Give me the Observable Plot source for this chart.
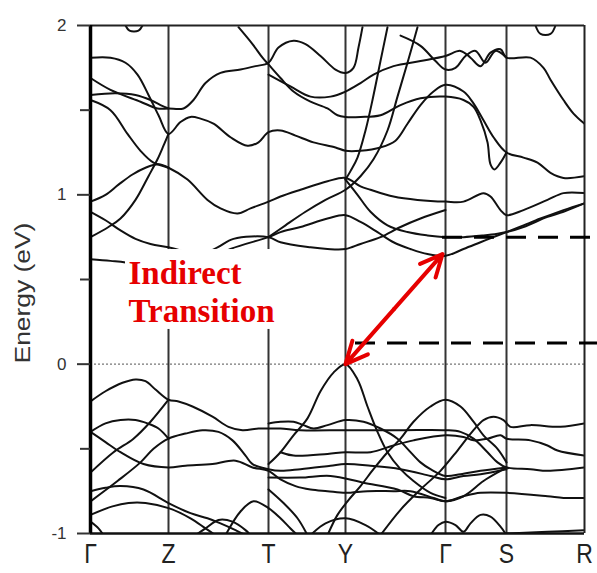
<!DOCTYPE html>
<html><head><meta charset="utf-8">
<script src="https://cdn.jsdelivr.net/npm/d3@7"></script>
<script src="https://cdn.jsdelivr.net/npm/@observablehq/plot@0.6"></script>
<style>html,body{margin:0;padding:0;background:#fff;} svg{display:block}</style>
</head><body><div id="chart"></div>
<script>
// k-path positions of the high-symmetry points and their labels
const kTicks = [0, 78, 178, 255, 355, 416, 494];
const kLabels = ["Γ", "Z", "T", "Y", "Γ", "S", "R"];
const yTicks = [-1, 0, 1, 2];
const yMinor = [-0.5, 0.5, 1.5];

// conduction bands: [k, energy (eV)]
const c1 = [[0,1.81],[20,1.81],[35,1.78],[47,1.71],[58,1.59],[68,1.47],[78,1.36],[90,1.43],[100,1.46],[110,1.45],[123,1.42],[140,1.34],[157,1.29],[168,1.31],[178,1.37],[190,1.38],[205,1.35],[223,1.31],[245,1.28],[255,1.26],[270,1.26],[290,1.28],[305,1.32],[317,1.42],[330,1.53],[343,1.61],[355,1.65],[373,1.61],[383,1.54],[393,1.44],[403,1.34],[416,1.25],[433,1.22],[447,1.19],[460,1.13],[473,1.10],[494,1.11]];
const c2 = [[0,1.69],[20,1.62],[50,1.55],[67,1.51],[78,1.51],[93,1.51],[103,1.56],[115,1.66],[130,1.72],[150,1.74],[165,1.76],[178,1.78],[188,1.87],[203,1.91],[215,1.89],[230,1.82],[245,1.74],[255,1.72],[263,1.75],[268,1.87],[272,1.99]];
const c3 = [[148,1.99],[162,1.89],[172,1.81],[178,1.77],[190,1.69],[203,1.61],[220,1.55],[237,1.51],[247,1.47],[255,1.46],[270,1.46],[290,1.47],[310,1.53],[330,1.57],[355,1.58],[373,1.56],[383,1.52],[390,1.44],[397,1.31],[400,1.18],[404,1.15],[410,1.19],[416,1.25]];
const c4 = [[0,1.56],[20,1.50],[37,1.36],[50,1.26],[63,1.19],[78,1.16],[97,1.09],[117,0.97],[130,0.92],[147,0.89],[160,0.92],[178,0.96],[190,0.99],[210,1.03],[237,1.08],[255,1.10],[270,1.05],[280,1.03],[303,0.99],[327,0.97],[355,0.96],[373,0.96],[393,1.01],[400,0.99],[410,0.91],[416,0.88],[433,0.91],[457,0.97],[473,1.01],[494,1.01]];
const c5 = [[0,1.59],[25,1.60],[45,1.59],[60,1.56],[70,1.53],[78,1.51]];
const c6 = [[0,0.96],[15,1.00],[28,1.06],[42,1.12],[55,1.16],[68,1.18],[78,1.16]];
const c7 = [[0,0.75],[18,0.81],[30,0.86],[45,0.97],[58,1.11],[67,1.21],[73,1.29],[78,1.36]];
const c8 = [[0,0.90],[15,0.85],[30,0.79],[45,0.74],[60,0.71],[78,0.69],[110,0.65],[127,0.69],[143,0.74],[178,0.75],[190,0.72],[220,0.69],[237,0.68],[255,0.68],[270,0.71],[290,0.75],[310,0.81],[330,0.86],[355,0.91]];
const c9 = [[0,0.62],[20,0.61],[35,0.60],[60,0.55],[78,0.51],[110,0.59],[140,0.68],[178,0.75],[190,0.78],[210,0.81],[237,0.86],[255,0.88],[270,0.84],[287,0.78],[303,0.72],[320,0.68],[337,0.65],[355,0.64],[373,0.68],[390,0.72],[407,0.76],[416,0.78],[433,0.82],[450,0.86],[473,0.91],[494,0.95]];
const c10 = [[255,1.09],[267,1.00],[280,0.90],[297,0.82],[317,0.78],[337,0.76],[355,0.75],[373,0.75],[393,0.76],[407,0.77],[416,0.78],[433,0.81],[457,0.87],[473,0.90],[494,0.95]];
const c11 = [[255,1.09],[260,1.14],[267,1.22],[275,1.38],[282,1.56],[290,1.79],[297,1.99]];
const c12 = [[178,0.75],[195,0.82],[215,0.90],[235,0.97],[255,1.03],[270,1.11],[283,1.21],[297,1.38],[307,1.58],[317,1.78],[327,1.99]];
const c13 = [[178,1.71],[200,1.64],[220,1.58],[240,1.58],[255,1.61],[270,1.66],[283,1.71],[303,1.76],[330,1.79],[355,1.82],[370,1.85],[380,1.81],[390,1.76],[400,1.84],[410,1.86],[416,1.81],[440,1.81],[453,1.75],[460,1.68],[473,1.56],[483,1.48],[494,1.42]];
const c14 = [[310,1.94],[330,1.88],[345,1.79],[355,1.74],[365,1.75],[375,1.82],[385,1.85],[395,1.78],[405,1.85],[416,1.81]];
const c15 = [[35,2.0],[39,1.97],[48,1.97],[52,2.0]];
const c16 = [[445,2.0],[450,1.95],[460,1.95],[465,2.0]];

// valence bands: [k, energy (eV)]
const v1 = [[0,-0.22],[15,-0.16],[32,-0.11],[45,-0.09],[55,-0.10],[65,-0.15],[78,-0.21],[88,-0.22],[102,-0.25],[122,-0.31],[138,-0.37],[152,-0.39],[168,-0.38],[178,-0.38],[190,-0.38],[210,-0.39],[255,-0.39],[310,-0.39],[355,-0.39],[370,-0.40],[383,-0.44],[397,-0.52],[407,-0.58],[416,-0.61],[440,-0.62],[457,-0.63],[494,-0.61]];
const v2 = [[0,-0.64],[23,-0.52],[43,-0.44],[60,-0.34],[78,-0.21]];
const v3 = [[0,-0.81],[27,-0.69],[50,-0.58],[63,-0.50],[78,-0.44],[95,-0.41],[112,-0.39],[128,-0.40],[142,-0.45],[155,-0.54],[162,-0.59],[178,-0.62],[190,-0.63],[210,-0.62],[240,-0.60],[255,-0.59],[280,-0.60],[310,-0.62],[340,-0.66],[355,-0.68],[373,-0.66],[390,-0.65],[416,-0.62]];
const v4 = [[0,-0.40],[15,-0.35],[30,-0.33],[45,-0.33],[57,-0.35],[68,-0.38],[78,-0.44]];
const v5 = [[0,-0.40],[15,-0.46],[30,-0.52],[53,-0.59],[78,-0.61],[95,-0.60],[122,-0.59],[145,-0.57],[162,-0.61],[178,-0.63],[190,-0.68],[205,-0.72],[220,-0.74],[237,-0.75],[255,-0.76],[277,-0.75],[303,-0.75],[320,-0.75],[343,-0.79],[355,-0.81],[373,-0.78],[390,-0.76],[416,-0.76],[457,-0.78],[473,-0.79],[494,-0.79]];
const v6 = [[0,-0.75],[15,-0.73],[30,-0.72],[53,-0.74],[78,-0.82],[100,-0.88],[117,-0.91],[130,-0.94],[145,-0.98],[155,-1.01]];
const v7 = [[0,-0.89],[22,-0.84],[38,-0.82],[55,-0.82],[78,-0.85],[100,-0.91],[115,-0.97],[125,-1.01]];
const v8 = [[105,-1.01],[115,-0.97],[128,-0.92],[142,-0.93],[155,-0.98],[160,-1.01]];
const v9 = [[135,-1.01],[150,-0.87],[163,-0.81],[178,-0.85],[190,-0.91],[200,-0.97],[207,-1.01]];
const v10 = [[0,-0.93],[8,-0.97],[13,-1.01]];
const v11 = [[178,-0.59],[190,-0.52],[203,-0.42],[217,-0.32],[230,-0.16],[243,-0.05],[255,0.0],[267,-0.09],[277,-0.25],[287,-0.40],[297,-0.52],[310,-0.62],[323,-0.69],[340,-0.76],[355,-0.79]];
const v12 = [[178,-0.35],[190,-0.34],[203,-0.34],[213,-0.36],[223,-0.38],[237,-0.36],[255,-0.33],[273,-0.34],[290,-0.38],[307,-0.44],[317,-0.50],[330,-0.58],[340,-0.62],[355,-0.66],[370,-0.65],[390,-0.63],[416,-0.61]];
const v13 = [[237,-1.01],[247,-0.89],[257,-0.81],[270,-0.72],[283,-0.62],[297,-0.52],[310,-0.44],[323,-0.34],[340,-0.25],[355,-0.21],[370,-0.25],[383,-0.34],[393,-0.42],[407,-0.50],[416,-0.58]];
const v14 = [[290,-1.01],[310,-0.86],[330,-0.74],[350,-0.63],[367,-0.51],[383,-0.39],[393,-0.33],[403,-0.31],[413,-0.33],[420,-0.37],[440,-0.36],[470,-0.37],[494,-0.35]];
const v15 = [[190,-0.52],[203,-0.54],[237,-0.53],[255,-0.52],[280,-0.52],[303,-0.48],[323,-0.45],[355,-0.42],[373,-0.43],[383,-0.45],[397,-0.44],[410,-0.42],[416,-0.44],[440,-0.45],[457,-0.48],[467,-0.51],[494,-0.54]];
const v16 = [[178,-0.67],[210,-0.67],[240,-0.66],[273,-0.70],[307,-0.74],[323,-0.78],[340,-0.79],[355,-0.81],[373,-0.78],[393,-0.69],[410,-0.63],[416,-0.61]];
const v17 = [[340,-1.01],[348,-0.95],[355,-0.93],[365,-0.95],[373,-0.99],[380,-0.94],[390,-0.89],[400,-0.90],[410,-0.96],[416,-1.01]];
const v18 = [[416,-1.0],[457,-0.99],[494,-0.98]];
const v19 = [[178,-0.74],[193,-0.82],[207,-0.91],[217,-1.01]];
const v20 = [[220,-1.01],[235,-0.94],[255,-0.91],[275,-0.95],[290,-1.01]];

const conduction = [c1,c2,c3,c4,c5,c6,c7,c8,c9,c10,c11,c12,c13,c14,c15,c16];
const valence = [v1,v2,v3,v4,v5,v6,v7,v8,v9,v10,v11,v12,v13,v14,v15,v16,v17,v18,v19,v20];

// annotations
const dashLevels = [{E: 0.75, from: 352}, {E: 0.125, from: 265}];
const transition = {k1: 255, E1: 0.0, k2: 352, E2: 0.65};
const noteLines = [{text: "Indirect", E: 0.535}, {text: "Transition", E: 0.31}];

const rows = [...conduction, ...valence].flatMap((b, i) => b.map(([k, E]) => ({band: i, k, E})));
const tickRows = kTicks.map((k, i) => ({k, label: kLabels[i]}));
const mid = {k: (transition.k1 + transition.k2) / 2, E: (transition.E1 + transition.E2) / 2};
const arrows = [
  {x1: mid.k, y1: mid.E, x2: transition.k2, y2: transition.E2},
  {x1: mid.k, y1: mid.E, x2: transition.k1, y2: transition.E1}
];

const chart = Plot.plot({
  width: 597, height: 573,
  marginLeft: 90, marginRight: 13, marginTop: 25, marginBottom: 40,
  x: {domain: [0, 494], axis: null},
  y: {domain: [-1, 2], axis: null},
  style: {fontFamily: "'Liberation Sans', Arial, sans-serif", background: "#fff", color: "#333"},
  marks: [
    Plot.ruleY([0], {stroke: "#777", strokeWidth: 1.3, strokeDasharray: "2,2"}),
    Plot.ruleX(kTicks.slice(1, -1), {stroke: "#333", strokeWidth: 2}),
    Plot.line(rows, {x: "k", y: "E", z: "band", curve: "catmull-rom", stroke: "#111", strokeWidth: 2, clip: true}),
    Plot.rect([0], {x1: 35, x2: 210, y1: 0.205, y2: 0.677, fill: "#fff"}),
    Plot.ruleX([494], {stroke: "#222", strokeWidth: 2}),
    Plot.ruleY([2], {stroke: "#222", strokeWidth: 2}),
    Plot.ruleY([-1], {stroke: "#111", strokeWidth: 2.5}),
    Plot.ruleX([0], {stroke: "#000", strokeWidth: 3.5}),
    Plot.axisY({ticks: yTicks, tickSize: 13, tickPadding: 11, fontSize: 17, strokeWidth: 2, tickFormat: d => String(d), fill: "#333"}),
    Plot.axisY({ticks: yMinor, tickSize: 10, strokeWidth: 2, tickFormat: () => ""}),
    Plot.text(tickRows, {x: "k", text: "label", frameAnchor: "bottom", dy: 29, fontSize: 23, fill: "#222", ariaDescription: "klabels"}),
    Plot.text(["Energy (eV)"], {x: -68, y: 0.42, rotate: -90, fontSize: 22, fill: "#333", ariaDescription: "ylabel"}),
    Plot.ruleY(dashLevels, {y: "E", x1: "from", x2: 507, stroke: "#000", strokeWidth: 3, strokeDasharray: "20,12"}),
    Plot.arrow(arrows, {x1: "x1", y1: "y1", x2: "x2", y2: "y2", stroke: "#e60000", strokeWidth: 4, headLength: 18, headAngle: 50}),
    Plot.text(noteLines, {x: 38, y: "E", text: "text", textAnchor: "start", fontSize: 33, fontWeight: "bold", fontFamily: "'Liberation Serif', 'Times New Roman', serif", fill: "#e60000"})
  ]
});

// the reference's axis lettering is stretched vertically; mimic that
d3.select(chart).selectAll('g[aria-description="klabels"] text').each(function() {
  const t = this.getAttribute("transform");
  if (t && t.includes("translate")) this.setAttribute("transform", t + " scale(1,1.2)");
});
d3.select(chart).selectAll('g[aria-description="ylabel"] text').each(function() {
  const t = this.getAttribute("transform");
  if (t && t.includes("rotate")) this.setAttribute("transform", t.replace("rotate", "scale(1,1.2) rotate"));
});
document.getElementById("chart").append(chart);
</script>
</body></html>
